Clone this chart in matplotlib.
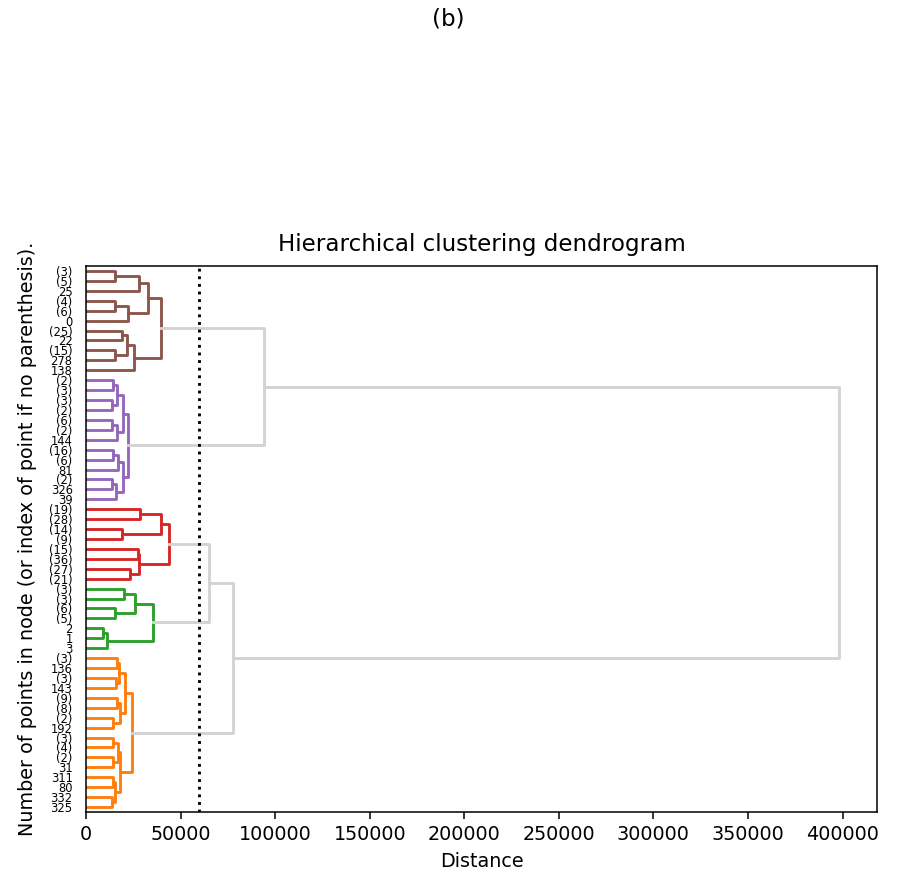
import matplotlib
matplotlib.use('Agg')
import matplotlib.pyplot as plt

# leaves of the truncated tree, top to bottom
leaf_labels = ['(3)', '(5)', '25', '(4)', '(6)', '0', '(25)', '22', '(15)', '278', '138',
               '(2)', '(3)', '(3)', '(2)', '(6)', '(2)', '144', '(16)', '(6)', '81', '(2)', '326', '39',
               '(19)', '(28)', '(14)', '(9)', '(15)', '(36)', '(27)', '(21)',
               '(3)', '(3)', '(6)', '(5)', '2', '1', '3',
               '(3)', '136', '(3)', '143', '(9)', '(8)', '(2)', '192',
               '(3)', '(4)', '(2)', '31', '311', '80', '332', '325']

# merges like a linkage matrix: ids < 55 are leaves, 55+k is the k-th merge
merge_left = [0, 55, 3, 57, 56, 6, 8, 60, 62, 59,
              11, 13, 65, 15, 68, 67, 18, 71, 21, 73, 72, 70,
              24, 26, 77, 28, 30, 80, 79,
              32, 34, 84, 36, 87, 86,
              39, 41, 90, 43, 45, 93, 92, 47, 49, 97, 51, 53, 100, 99, 96,
              64, 83, 106, 105]
merge_right = [1, 2, 4, 5, 58, 7, 9, 61, 10, 63,
               12, 14, 66, 16, 17, 69, 19, 20, 22, 23, 74, 75,
               25, 27, 78, 29, 31, 81, 82,
               33, 35, 85, 37, 38, 88,
               40, 42, 91, 44, 46, 94, 95, 48, 50, 98, 52, 54, 101, 102, 103,
               76, 89, 104, 107]
merge_dist = [15400, 28200, 15400, 22400, 33000, 18900, 15400, 21500, 25600, 39700,
              14400, 13900, 16200, 14000, 16500, 19700, 14500, 17000, 13500, 15800, 19700, 22400,
              28600, 18900, 39700, 27700, 23300, 28200, 44100,
              20300, 15400, 26000, 8800, 10900, 35300,
              16200, 15900, 17600, 16200, 14500, 18000, 20700, 14500, 14500, 17100,
              14500, 13600, 15400, 18000, 24500,
              94300, 65150, 77900, 398300]

threshold = 60000

n = len(leaf_labels)
ypos = {i: 10 * (n - 1 - i) + 5 for i in range(n)}
height = {i: 0 for i in range(n)}
for k, (a, b, d) in enumerate(zip(merge_left, merge_right, merge_dist)):
    ypos[n + k] = (ypos[a] + ypos[b]) / 2
    height[n + k] = d

# clusters below the cut, coloured C1, C2, ... from the bottom up
cluster = {}
for k in reversed(range(len(merge_dist))):
    node = n + k
    if merge_dist[k] < threshold:
        cluster.setdefault(node, node)
        cluster[merge_left[k]] = cluster[node]
        cluster[merge_right[k]] = cluster[node]
roots = sorted(set(cluster.values()), key=lambda r: ypos[r])
root_color = {r: 'C%d' % (i + 1) for i, r in enumerate(roots)}

fig = plt.figure(figsize=(897 / 138, 874 / 138), dpi=138)
ax = fig.add_axes([86 / 897, 1 - 812 / 874, 791 / 897, 546 / 874])

for k, (a, b, d) in enumerate(zip(merge_left, merge_right, merge_dist)):
    node = n + k
    col = root_color[cluster[node]] if node in cluster else 'lightgray'
    ax.plot([height[a], d, d, height[b]], [ypos[a], ypos[a], ypos[b], ypos[b]],
            color=col, lw=1.5)

ax.set_ylim(0, 10 * n)
ax.set_xlim(0, max(merge_dist) * 1.05)
ax.set_yticks([ypos[i] for i in range(n)])
ax.set_yticklabels(leaf_labels, fontsize=6)
for line in ax.get_yticklines():
    line.set_visible(False)

ax.axvline(threshold, color='k', linestyle=':', lw=1.5)

ax.set_title('Hierarchical clustering dendrogram', pad=8)
ax.set_xlabel('Distance')
ax.set_ylabel('Number of points in node (or index of point if no parenthesis).', labelpad=6)
fig.text(0.5, 1 - 19 / 874, '(b)', ha='center', va='center', fontsize=12)

fig.savefig('out.png', dpi=138)
